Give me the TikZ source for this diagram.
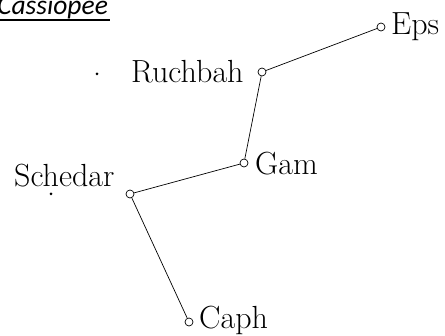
\documentclass[tikz,border=0pt]{standalone}
\usepackage{fontspec}
\newfontfamily\titlefont{Carlito}
\begin{document}
\begin{tikzpicture}[x=1pt,y=-1pt,
  star/.style={circle,draw=black,fill=white,inner sep=0pt,minimum size=8pt,line width=0.7pt},
  lbl/.style={inner sep=0pt,anchor=base west,font=\fontsize{32}{38}\selectfont},
  dotm/.style={circle,fill=black,inner sep=0pt,minimum size=3pt},
  link/.style={draw=black,line width=0.7pt}]
\useasboundingbox (0,0) rectangle (445,336);
\node[inner sep=0pt,anchor=base west,font=\titlefont\itshape\fontsize{27.5}{32}\selectfont] (title) at (-3,15) {Cassiopée};
\draw[line width=1.6pt] (0,20) -- (110,20);
\node[star] (eps) at (381,27) {};
\node[star] (ruc) at (262,72) {};
\node[star] (gam) at (244,163) {};
\node[star] (sch) at (130,194) {};
\node[star] (cap) at (189,322) {};
\path[link] (eps) -- (ruc) (ruc) -- (gam) (gam) -- (sch) (sch) -- (cap);
\node[lbl] (teps) at (391,35) {Eps};
\node[lbl] (truc) at (131,83) {Ruchbah};
\node[lbl] (tgam) at (255,175) {Gam};
\node[lbl] (tsch) at (14,187) {Schedar};
\node[lbl] (tcap) at (199,329) {Caph};
\node[dotm] (d1) at (97,74) {};
\node[dotm] (d2) at (51,194) {};
\end{tikzpicture}
\end{document}
